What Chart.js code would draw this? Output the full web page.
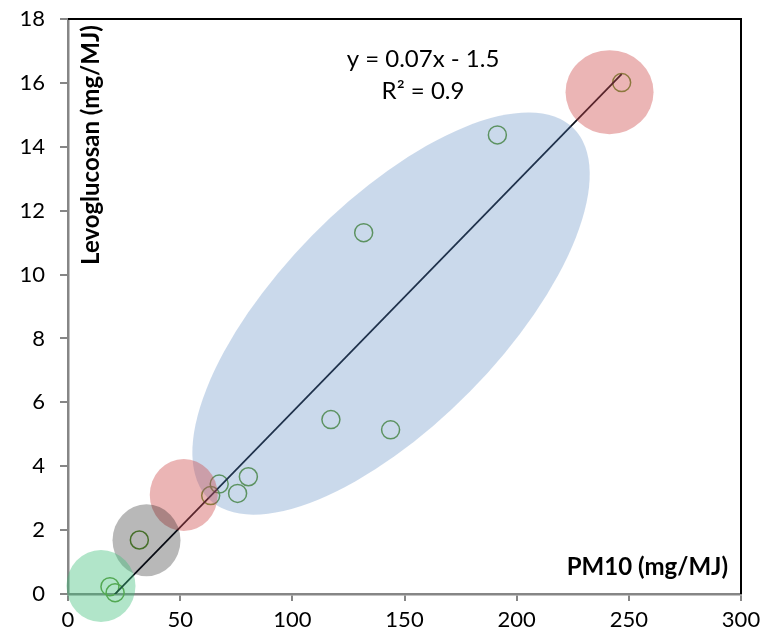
<!DOCTYPE html>
<html>
<head>
<meta charset="utf-8">
<script src="https://cdn.jsdelivr.net/npm/chart.js@4"></script>
<style>
  body { margin: 0; background: #fff; }
  #wrap { width: 767px; height: 643px; }
</style>
</head>
<body>
<div id="wrap"><canvas id="scatterChart" width="767" height="643"></canvas></div>
<script>
// Data
const pm10 = [18.7, 21.0, 31.8, 63.6, 67.4, 75.6, 80.4, 117.2, 131.8, 143.8, 191.4, 246.8];
const levoglucosan = [0.23, 0.04, 1.69, 3.08, 3.44, 3.15, 3.67, 5.46, 11.31, 5.14, 14.37, 16.01];
const xTicks = [0, 50, 100, 150, 200, 250, 300];
const yTicks = [0, 2, 4, 6, 8, 10, 12, 14, 16, 18];

// Highlight shapes (centre in data units, radii in px)
const blobX = [144.0, 241.4, 51.6, 35.0, 14.7];
const blobY = [8.78, 15.71, 3.10, 1.68, 0.25];
const blobRx = [260, 44, 34, 34, 34.5];
const blobRy = [111, 42, 36, 36, 36];
const blobAngle = [-45.5, 0, 0, 0, 0];
const blobColor = [
  "rgba(79,129,189,0.3)",
  "rgba(205,70,70,0.4)",
  "rgba(205,70,70,0.4)",
  "rgba(0,0,0,0.28)",
  "rgba(60,190,120,0.4)"
];

// Least squares fit
function linearFit(xs, ys) {
  const n = xs.length;
  const mx = xs.reduce((a, b) => a + b, 0) / n;
  const my = ys.reduce((a, b) => a + b, 0) / n;
  let sxy = 0, sxx = 0, syy = 0;
  for (let i = 0; i < n; i++) {
    sxy += (xs[i] - mx) * (ys[i] - my);
    sxx += (xs[i] - mx) ** 2;
    syy += (ys[i] - my) ** 2;
  }
  const slope = sxy / sxx;
  return { slope, intercept: my - slope * mx, r2: (sxy * sxy) / (sxx * syy) };
}

const fit = linearFit(pm10, levoglucosan);
const xMin = Math.min(...pm10);
const xMax = Math.max(...pm10);
const trend = [
  { x: xMin, y: fit.slope * xMin + fit.intercept },
  { x: xMax, y: fit.slope * xMax + fit.intercept }
];
const eqText = `y = ${fit.slope.toFixed(2)}x ${fit.intercept < 0 ? "-" : "+"} ${Math.abs(fit.intercept).toFixed(1)}`;
const r2Text = `R² = ${fit.r2.toFixed(1)}`;

const FONT = "Lato, 'Open Sans', sans-serif";

const decorations = {
  id: "decorations",
  beforeDatasetsDraw(chart) {
    const { ctx, chartArea } = chart;
    ctx.save();
    ctx.strokeStyle = "#000";
    ctx.lineWidth = 2;
    ctx.beginPath();
    ctx.moveTo(chartArea.left, chartArea.top);
    ctx.lineTo(chartArea.right, chartArea.top);
    ctx.lineTo(chartArea.right, chartArea.bottom);
    ctx.stroke();
    ctx.restore();
  },
  afterDatasetsDraw(chart) {
    const { ctx, scales } = chart;
    ctx.save();
    blobX.forEach((bx, i) => {
      ctx.beginPath();
      ctx.ellipse(scales.x.getPixelForValue(bx), scales.y.getPixelForValue(blobY[i]),
        blobRx[i], blobRy[i], blobAngle[i] * Math.PI / 180, 0, Math.PI * 2);
      ctx.fillStyle = blobColor[i];
      ctx.fill();
    });
    ctx.restore();
  },
  afterDraw(chart) {
    const { ctx, chartArea } = chart;
    ctx.save();
    ctx.fillStyle = "#000";
    // regression label
    ctx.font = `24px ${FONT}`;
    ctx.textAlign = "center";
    ctx.textBaseline = "alphabetic";
    ctx.fillText(eqText, 423, chartArea.top + 48);
    ctx.fillText(r2Text, 423, chartArea.top + 80);
    // axis titles inside the plot
    ctx.font = `bold 24px ${FONT}`;
    ctx.textAlign = "right";
    ctx.fillText("PM10 (mg/MJ)", chartArea.right - 13, chartArea.bottom - 19);
    ctx.translate(chartArea.left + 23, chartArea.top + 126);
    ctx.rotate(-Math.PI / 2);
    ctx.textAlign = "center";
    ctx.textBaseline = "middle";
    ctx.fillText("Levoglucosan (mg/MJ)", 0, 0);
    ctx.restore();
  }
};

const axisGrey = "#868686";

new Chart(document.getElementById("scatterChart"), {
  type: "scatter",
  data: {
    datasets: [
      {
        type: "line",
        data: trend,
        borderColor: "#0a0f1a",
        borderWidth: 1.75,
        pointRadius: 0,
        fill: false
      },
      {
        data: pm10.map((x, i) => ({ x, y: levoglucosan[i] })),
        pointStyle: "circle",
        pointRadius: 9,
        pointBorderWidth: 1.5,
        borderColor: "#629a3a",
        backgroundColor: "rgba(0,0,0,0)",
        clip: false
      }
    ]
  },
  options: {
    responsive: false,
    animation: false,
    layout: { padding: { top: 19, right: 26, left: 0, bottom: 0 } },
    plugins: {
      legend: { display: false },
      tooltip: { enabled: false }
    },
    scales: {
      x: {
        type: "linear",
        min: 0,
        max: 300,
        afterBuildTicks: s => { s.ticks = xTicks.map(v => ({ value: v })); },
        afterFit: s => { s.height = 49; },
        border: { color: axisGrey, width: 2.5 },
        grid: { drawOnChartArea: false, color: axisGrey, lineWidth: 2, tickLength: 7 },
        ticks: { color: "#000", font: { family: FONT, size: 22 }, padding: 6, maxRotation: 0 }
      },
      y: {
        type: "linear",
        min: 0,
        max: 18,
        afterBuildTicks: s => { s.ticks = yTicks.map(v => ({ value: v })); },
        afterFit: s => {
          s.width = 68;
          // tick padding would otherwise push the plot top down
          s.paddingTop = 12;
          s.paddingBottom = 12;
        },
        border: { color: axisGrey, width: 2.5 },
        grid: { drawOnChartArea: false, color: axisGrey, lineWidth: 2, tickLength: 8 },
        ticks: { color: "#000", font: { family: FONT, size: 22 }, padding: 15 }
      }
    }
  },
  plugins: [decorations]
});
</script>
</body>
</html>
